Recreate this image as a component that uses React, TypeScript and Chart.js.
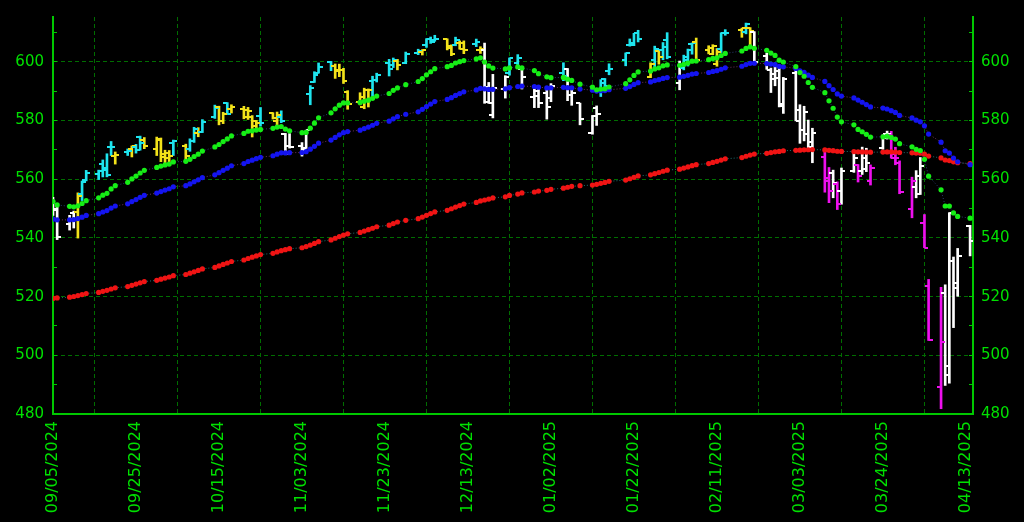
import { useEffect, useRef } from 'react';
import { Chart, registerables } from 'chart.js';

Chart.register(...registerables);

// ---- data ----
const dates = [
  '2024-09-05','2024-09-06','2024-09-09','2024-09-10','2024-09-11','2024-09-12','2024-09-13','2024-09-16','2024-09-17','2024-09-18',
  '2024-09-19','2024-09-20','2024-09-23','2024-09-24','2024-09-25','2024-09-26','2024-09-27','2024-09-30','2024-10-01','2024-10-02',
  '2024-10-03','2024-10-04','2024-10-07','2024-10-08','2024-10-09','2024-10-10','2024-10-11','2024-10-14','2024-10-15','2024-10-16',
  '2024-10-17','2024-10-18','2024-10-21','2024-10-22','2024-10-23','2024-10-24','2024-10-25','2024-10-28','2024-10-29','2024-10-30',
  '2024-10-31','2024-11-01','2024-11-04','2024-11-05','2024-11-06','2024-11-07','2024-11-08','2024-11-11','2024-11-12','2024-11-13',
  '2024-11-14','2024-11-15','2024-11-18','2024-11-19','2024-11-20','2024-11-21','2024-11-22','2024-11-25','2024-11-26','2024-11-27',
  '2024-11-29','2024-12-02','2024-12-03','2024-12-04','2024-12-05','2024-12-06','2024-12-09','2024-12-10','2024-12-11','2024-12-12',
  '2024-12-13','2024-12-16','2024-12-17','2024-12-18','2024-12-19','2024-12-20','2024-12-23','2024-12-24','2024-12-26','2024-12-27',
  '2024-12-30','2024-12-31','2025-01-02','2025-01-03','2025-01-06','2025-01-07','2025-01-08','2025-01-10','2025-01-13','2025-01-14',
  '2025-01-15','2025-01-16','2025-01-17','2025-01-21','2025-01-22','2025-01-23','2025-01-24','2025-01-27','2025-01-28','2025-01-29',
  '2025-01-30','2025-01-31','2025-02-03','2025-02-04','2025-02-05','2025-02-06','2025-02-07','2025-02-10','2025-02-11','2025-02-12',
  '2025-02-13','2025-02-14','2025-02-18','2025-02-19','2025-02-20','2025-02-21','2025-02-24','2025-02-25','2025-02-26','2025-02-27',
  '2025-02-28','2025-03-03','2025-03-04','2025-03-05','2025-03-06','2025-03-07','2025-03-10','2025-03-11','2025-03-12','2025-03-13',
  '2025-03-14','2025-03-17','2025-03-18','2025-03-19','2025-03-20','2025-03-21','2025-03-24','2025-03-25','2025-03-26','2025-03-27',
  '2025-03-28','2025-03-31','2025-04-01','2025-04-02','2025-04-03','2025-04-04','2025-04-07','2025-04-08','2025-04-09','2025-04-10',
  '2025-04-11','2025-04-14',
];

const opens = [
  550.89,549.94,544.65,548.36,548.70,555.01,559.71,561.74,565.10,563.74,
  571.01,567.84,569.34,570.48,571.14,574.38,573.39,570.42,573.40,567.71,
  567.36,572.35,571.30,570.42,573.16,575.77,576.05,581.22,584.59,579.78,
  585.91,584.07,583.85,581.05,581.26,579.98,581.51,582.58,579.85,581.29,
  575.56,571.32,571.18,570.74,589.20,593.08,596.17,599.81,598.68,597.37,
  597.32,589.72,586.22,584.71,590.38,593.40,593.66,599.52,598.80,600.46,
  599.66,602.97,603.39,605.63,607.66,607.44,607.69,605.37,605.78,606.58,
  606.40,606.00,604.19,603.98,591.36,581.77,590.89,596.06,599.50,597.54,
  587.89,589.91,589.39,587.53,596.27,597.42,588.70,585.88,575.77,584.36,
  590.33,594.17,596.96,600.67,605.92,605.80,609.81,594.81,600.62,603.72,
  603.96,607.50,592.67,597.83,600.64,605.99,606.89,604.03,602.55,599.20,
  604.48,609.94,610.88,610.08,611.54,610.16,602.02,597.15,595.93,596.85,
  585.56,596.18,579.71,576.69,575.48,570.90,567.59,559.40,562.17,558.49,
  556.11,562.79,564.80,562.83,563.33,559.28,570.80,575.30,575.19,567.18,
  565.53,549.83,557.45,555.05,545.11,523.67,489.19,521.18,493.44,532.17,
  523.00,544.07,
];

const highs = [
  553.80,551.60,547.71,549.15,555.36,559.40,563.03,563.11,566.58,568.69,
  572.88,569.31,570.33,571.36,571.89,574.71,574.22,574.38,574.06,569.90,
  569.80,573.36,571.96,573.78,577.71,577.58,580.33,585.27,584.90,582.83,
  586.12,585.39,584.85,584.50,581.71,580.06,584.46,582.71,582.91,583.32,
  575.63,575.55,572.50,576.74,591.93,596.65,599.64,600.17,599.29,599.23,
  597.81,590.20,589.49,591.04,590.79,595.12,596.15,600.86,601.33,600.85,
  603.35,604.32,604.16,607.91,608.48,609.07,607.86,605.80,608.43,607.16,
  607.16,607.78,605.17,606.41,593.00,595.75,595.30,601.34,602.48,597.78,
  591.74,590.64,591.13,592.60,599.70,597.75,590.58,585.95,581.75,585.00,
  593.94,594.35,599.36,603.06,607.82,609.75,610.78,599.69,605.37,604.13,
  606.60,609.96,600.29,602.30,604.37,606.45,608.13,605.50,605.86,604.55,
  609.94,610.99,611.49,613.23,611.68,610.30,602.92,597.89,599.58,598.02,
  594.72,597.34,585.39,584.88,580.17,577.39,569.54,564.02,563.11,559.11,
  563.83,569.71,565.02,570.95,570.57,564.89,575.15,576.41,576.33,570.90,
  566.27,560.71,562.94,567.42,547.97,525.87,523.17,524.03,548.62,533.50,
  536.43,544.28,
];

const lows = [
  547.68,539.44,542.68,543.38,539.96,552.74,559.45,559.90,560.79,560.83,
  568.08,565.17,568.10,567.60,568.91,569.90,570.42,568.08,566.00,565.27,
  565.49,568.10,566.63,569.53,572.55,574.49,575.91,580.73,578.54,578.96,
  582.16,582.58,580.60,580.38,574.41,576.57,578.08,580.52,578.43,579.29,
  568.44,570.62,567.89,570.52,585.39,593.00,596.17,597.00,594.37,594.96,
  592.65,583.86,585.34,584.03,584.63,587.45,593.15,595.20,598.07,597.28,
  599.38,602.47,602.34,604.95,606.30,607.02,604.08,602.13,605.50,604.33,
  602.81,605.21,602.89,585.89,585.85,580.91,587.66,595.47,598.08,590.76,
  584.41,584.42,580.50,586.43,593.60,586.78,585.20,578.55,575.35,578.35,
  588.20,590.93,595.61,598.67,605.36,605.52,606.80,594.64,597.25,599.22,
  600.72,601.05,590.49,597.28,598.58,602.63,600.05,602.74,602.43,598.51,
  603.20,609.07,608.38,609.56,605.62,599.47,597.47,589.56,591.86,584.65,
  582.44,579.90,572.25,573.08,570.12,565.63,555.59,552.02,553.69,549.68,
  551.49,562.35,559.06,561.63,562.60,558.03,570.20,573.69,567.19,564.94,
  555.07,546.87,553.68,554.81,536.70,505.06,481.80,489.73,490.50,509.44,
  520.12,533.88,
];

const closes = [
  549.61,540.36,546.41,548.79,554.42,559.09,562.01,562.84,563.07,561.40,
  570.98,568.25,569.67,571.30,570.04,572.30,571.47,573.76,568.62,568.86,
  567.82,572.98,567.80,573.17,577.14,576.13,579.58,584.32,579.78,582.30,
  582.35,584.59,583.63,583.32,577.99,579.24,579.04,580.83,581.77,580.01,
  568.64,571.04,569.81,576.70,591.04,595.61,598.19,598.76,596.90,597.19,
  593.35,585.75,588.15,590.30,590.50,593.67,595.51,597.53,600.65,598.83,
  602.55,603.63,603.91,607.66,606.66,607.81,604.68,602.80,607.46,604.33,
  604.21,606.79,604.29,586.28,586.10,591.15,594.69,601.30,601.34,595.01,
  588.22,586.08,584.64,591.95,595.36,588.63,589.49,580.49,581.39,582.19,
  592.78,591.64,597.58,603.05,606.44,609.75,607.97,599.37,604.52,601.81,
  605.04,601.82,597.77,601.78,604.22,606.32,600.77,604.85,605.31,603.36,
  609.73,609.70,611.49,612.93,610.38,599.94,597.21,594.24,594.54,585.05,
  594.18,583.77,576.86,583.06,572.71,575.92,560.58,555.92,558.87,551.42,
  562.81,567.15,561.02,567.13,565.49,563.98,574.08,575.46,568.59,567.08,
  555.66,559.39,560.97,564.52,536.70,505.28,504.38,496.48,548.62,524.58,
  533.94,539.12,
];

// bar class: C = up bar in up-trend, Y = other bar in up-trend, W = neutral, M = down bar in down-trend
const barClass = [
  'W','W','W','W','Y','C','C','C','C','C',
  'C','Y','C','Y','C','C','Y','Y','Y','Y',
  'Y','C','Y','C','C','Y','C','C','Y','Y',
  'C','Y','Y','Y','Y','Y','C','Y','Y','C',
  'W','W','W','W','C','C','C','C','Y','Y',
  'Y','Y','Y','Y','Y','C','C','C','C','Y',
  'C','C','Y','C','C','C','Y','Y','C','Y',
  'Y','C','Y','W','W','W','W','C','C','W',
  'W','W','W','W','C','W','W','W','W','W',
  'C','C','C','C','C','C','C','Y','C','Y',
  'C','C','W','C','C','C','Y','Y','Y','Y',
  'C','C','Y','C','Y','W','W','W','W','W',
  'W','W','W','W','W','W','M','M','W','M',
  'W','W','M','W','W','M','W','W','M','M',
  'M','M','W','W','M','M','M','W','W','W',
  'W','W',
];

const ema20 = [
  552.40,551.25,550.79,550.60,550.96,551.74,552.71,553.68,554.57,555.22,
  556.72,557.82,558.95,560.13,561.07,562.14,563.03,564.05,564.49,564.90,
  565.18,565.92,566.10,566.78,567.76,568.56,569.61,571.01,571.85,572.84,
  573.75,574.78,575.62,576.36,576.51,576.77,576.99,577.35,577.77,577.99,
  577.10,576.52,575.88,575.96,577.40,579.13,580.95,582.64,584.00,585.26,
  586.03,586.00,586.20,586.59,586.97,587.60,588.36,589.23,590.32,591.13,
  592.22,593.31,594.32,595.59,596.64,597.70,598.37,598.79,599.62,600.07,
  600.46,601.06,601.37,599.93,598.62,597.90,597.60,597.95,598.27,597.96,
  597.03,595.99,594.91,594.63,594.70,594.12,593.68,592.42,591.37,590.50,
  590.72,590.81,591.45,592.56,593.88,595.39,596.59,596.86,597.59,597.99,
  598.66,598.96,598.85,599.13,599.61,600.25,600.30,600.74,601.17,601.38,
  602.18,602.89,603.71,604.59,605.14,604.65,603.94,603.01,602.21,600.57,
  599.96,598.42,596.37,595.10,592.97,591.34,589.51,586.72,584.20,581.21,
  579.59,578.54,577.00,576.20,575.31,574.37,574.47,574.70,574.25,573.70,
  572.12,571.04,570.21,569.80,566.78,561.06,556.40,550.88,550.86,548.54,
  547.34,546.75,
];

const ema50 = [
  546.40,546.16,546.17,546.27,546.59,547.08,547.67,548.26,548.84,549.33,
  550.18,550.89,551.63,552.40,553.09,553.84,554.53,555.29,555.81,556.32,
  556.77,557.41,557.82,558.42,559.15,559.82,560.59,561.52,562.24,563.03,
  563.78,564.60,565.35,566.05,566.52,567.02,567.49,568.01,568.55,569.00,
  568.99,569.07,569.10,569.40,570.25,571.24,572.30,573.34,574.26,575.16,
  575.87,576.26,576.73,577.26,577.78,578.40,579.07,579.80,580.61,581.33,
  582.16,583.00,583.82,584.76,585.62,586.49,587.20,587.81,588.58,589.20,
  589.79,590.46,591.00,590.82,590.63,590.65,590.81,591.22,591.62,591.75,
  591.61,591.39,591.13,591.16,591.33,591.22,591.15,590.73,590.37,590.05,
  590.16,590.22,590.50,591.00,591.60,592.31,592.93,593.18,593.62,593.94,
  594.38,594.67,594.79,595.07,595.43,595.85,596.05,596.39,596.74,597.00,
  597.50,597.98,598.51,599.07,599.52,599.53,599.44,599.24,599.05,598.50,
  598.33,597.76,596.94,596.40,595.47,594.70,593.36,591.90,590.60,589.07,
  588.34,587.72,586.99,586.24,585.46,584.65,584.27,583.95,583.38,582.77,
  581.74,580.89,580.14,579.56,578.21,575.40,572.65,569.71,568.93,567.23,
  565.97,564.96,
];

const ema200 = [
  519.40,519.57,519.80,520.05,520.35,520.69,521.06,521.43,521.80,522.15,
  522.60,523.01,523.43,523.86,524.27,524.70,525.12,525.56,525.94,526.32,
  526.69,527.14,527.54,527.98,528.47,528.93,529.43,529.97,530.45,530.96,
  531.46,531.98,532.49,532.99,533.43,533.88,534.32,534.77,535.23,535.67,
  535.99,536.33,536.66,537.05,537.58,538.15,538.74,539.33,539.89,540.46,
  540.97,541.41,541.87,542.34,542.81,543.31,543.82,544.35,544.90,545.43,
  545.99,546.56,547.12,547.71,548.29,548.88,549.42,549.95,550.51,551.04,
  551.56,552.10,552.61,552.94,553.26,553.63,554.03,554.50,554.95,555.34,
  555.66,555.96,556.23,556.58,556.96,557.27,557.58,557.80,558.03,558.26,
  558.60,558.92,559.29,559.72,560.18,560.66,561.13,561.50,561.92,562.31,
  562.73,563.11,563.45,563.82,564.21,564.62,564.98,565.36,565.75,566.12,
  566.55,566.97,567.40,567.85,568.26,568.57,568.85,569.09,569.34,569.49,
  569.72,569.86,569.92,570.04,570.06,570.11,570.01,569.86,569.74,569.55,
  569.48,569.45,569.35,569.32,569.28,569.22,569.26,569.31,569.30,569.27,
  569.12,569.02,568.93,568.88,568.55,567.91,567.27,566.56,566.37,565.95,
  565.62,565.35,
];

const tickDays = [0, 20, 40, 60, 80, 100, 120, 140, 160, 180, 200, 220];
const tickLabels = [
  '09/05/2024', '09/25/2024', '10/15/2024', '11/03/2024', '11/23/2024', '12/13/2024',
  '01/02/2025', '01/22/2025', '02/11/2025', '03/03/2025', '03/24/2025', '04/13/2025',
];
const priceTicks = [480, 490, 500, 510, 520, 530, 540, 550, 560, 570, 580, 590, 600, 610];

// ---- styling ----
const BAR_COLORS: Record<string, string> = {
  C: '#1ee4ee',
  Y: '#f2e21a',
  W: '#ffffff',
  M: '#ee10ee',
};
const AXIS_GREEN = '#00c800';
const TEXT_GREEN = '#00e000';
const GRID_GREEN = '#006e00';

function tickCanvas(color: string, side: 'L' | 'R') {
  const c = document.createElement('canvas');
  c.width = 8;
  c.height = 2;
  const g = c.getContext('2d')!;
  g.fillStyle = color;
  if (side === 'L') g.fillRect(0, 0, 4, 2);
  else g.fillRect(4, 0, 4, 2);
  return c;
}

export default function App() {
  const ref = useRef<HTMLCanvasElement>(null);

  useEffect(() => {
    document.body.style.margin = '0';
    document.body.style.background = '#000';
    const canvas = ref.current;
    if (!canvas) return;

    const base = Date.UTC(2024, 8, 5);
    const xs = dates.map((s) => {
      const [y, m, d] = s.split('-').map(Number);
      return (Date.UTC(y, m - 1, d) - base) / 86400000;
    });

    const colors = barClass.map((k) => BAR_COLORS[k]);
    const leftTicks: Record<string, HTMLCanvasElement> = {};
    const rightTicks: Record<string, HTMLCanvasElement> = {};
    Object.keys(BAR_COLORS).forEach((k) => {
      leftTicks[k] = tickCanvas(BAR_COLORS[k], 'L');
      rightTicks[k] = tickCanvas(BAR_COLORS[k], 'R');
    });

    const maDataset = (vals: number[], color: string, link: string) => ({
      type: 'line' as const,
      data: vals.map((v, i) => ({ x: xs[i], y: v })),
      borderColor: link,
      borderWidth: 1,
      borderDash: [1, 2],
      pointRadius: 2.6,
      pointBorderWidth: 0,
      pointBackgroundColor: color,
      pointHoverRadius: 2.6,
      tension: 0,
      order: 0,
      yAxisID: 'y',
    });

    const noPad = (s: any) => {
      s.paddingTop = 0;
      s.paddingBottom = 0;
    };

    const chart = new Chart(canvas, {
      type: 'bar',
      data: {
        datasets: [
          maDataset(ema20, '#16ee16', '#2a3a70'),
          maDataset(ema50, '#1414f0', '#703060'),
          maDataset(ema200, '#f01414', '#207070'),
          {
            type: 'line',
            data: opens.map((v, i) => ({ x: xs[i], y: v })),
            showLine: false,
            pointRadius: 1,
            pointStyle: barClass.map((k) => leftTicks[k]) as any,
            order: 1,
            yAxisID: 'y',
          },
          {
            type: 'line',
            data: closes.map((v, i) => ({ x: xs[i], y: v })),
            showLine: false,
            pointRadius: 1,
            pointStyle: barClass.map((k) => rightTicks[k]) as any,
            order: 1,
            yAxisID: 'y',
          },
          {
            type: 'bar',
            data: lows.map((l, i) => ({ x: xs[i], y: [l, highs[i]] })) as any,
            backgroundColor: colors,
            borderWidth: 0,
            barThickness: 2,
            grouped: false,
            order: 2,
            yAxisID: 'y',
          },
        ],
      },
      options: {
        responsive: false,
        devicePixelRatio: 1,
        animation: false,
        events: [],
        layout: { padding: { top: 17, left: 0, right: 0, bottom: 0 }, autoPadding: false },
        plugins: { legend: { display: false }, tooltip: { enabled: false } },
        scales: {
          x: {
            type: 'linear',
            min: 0,
            max: 221.7,
            offset: false,
            afterBuildTicks: (s: any) => {
              s.ticks = tickDays.map((v) => ({ value: v }));
            },
            afterFit: (s: any) => {
              s.height = 108;
              s.paddingLeft = 0;
              s.paddingRight = 0;
            },
            ticks: {
              autoSkip: false,
              minRotation: 90,
              maxRotation: 90,
              padding: 7,
              color: TEXT_GREEN,
              font: { family: 'DejaVu Sans', size: 16 },
              callback: (v: any) => {
                const k = tickDays.indexOf(Number(v));
                return k >= 0 ? tickLabels[k] : '';
              },
            },
            grid: {
              color: GRID_GREEN,
              drawTicks: false,
              lineWidth: 1,
            },
            border: { color: AXIS_GREEN, width: 2, dash: [4, 3] },
          },
          y: {
            type: 'linear',
            position: 'left',
            min: 480,
            max: 615.3,
            afterBuildTicks: (s: any) => {
              s.ticks = priceTicks.map((v) => ({ value: v }));
            },
            afterFit: (s: any) => {
              s.width = 53;
              noPad(s);
            },
            ticks: {
              autoSkip: false,
              padding: 13,
              color: TEXT_GREEN,
              font: { family: 'DejaVu Sans', size: 15 },
              callback: (v: any) => (Number(v) % 20 === 0 ? String(v) : ''),
            },
            grid: {
              color: (c: any) => (c.tick && c.tick.value % 20 === 0 && c.tick.value !== 480 ? GRID_GREEN : 'rgba(0,0,0,0)'),
              tickColor: AXIS_GREEN,
              tickLength: -4,
              tickWidth: 1,
              lineWidth: 1,
            },
            border: { color: AXIS_GREEN, width: 2, dash: [4, 3] },
          },
          y2: {
            type: 'linear',
            position: 'right',
            min: 480,
            max: 615.3,
            afterBuildTicks: (s: any) => {
              s.ticks = priceTicks.map((v) => ({ value: v }));
            },
            afterFit: (s: any) => {
              s.width = 51;
              noPad(s);
            },
            ticks: {
              autoSkip: false,
              padding: 12,
              color: TEXT_GREEN,
              font: { family: 'DejaVu Sans', size: 15 },
              callback: (v: any) => (Number(v) % 20 === 0 ? String(v) : ''),
            },
            grid: {
              drawOnChartArea: false,
              tickColor: AXIS_GREEN,
              tickLength: -4,
              tickWidth: 1,
            },
            border: { color: AXIS_GREEN, width: 2 },
          },
        },
      },
    } as any);

    return () => chart.destroy();
  }, []);

  return (
    <div style={{ width: 1024, height: 522, background: '#000' }}>
      <canvas ref={ref} width={1024} height={522} style={{ display: 'block' }} />
    </div>
  );
}
